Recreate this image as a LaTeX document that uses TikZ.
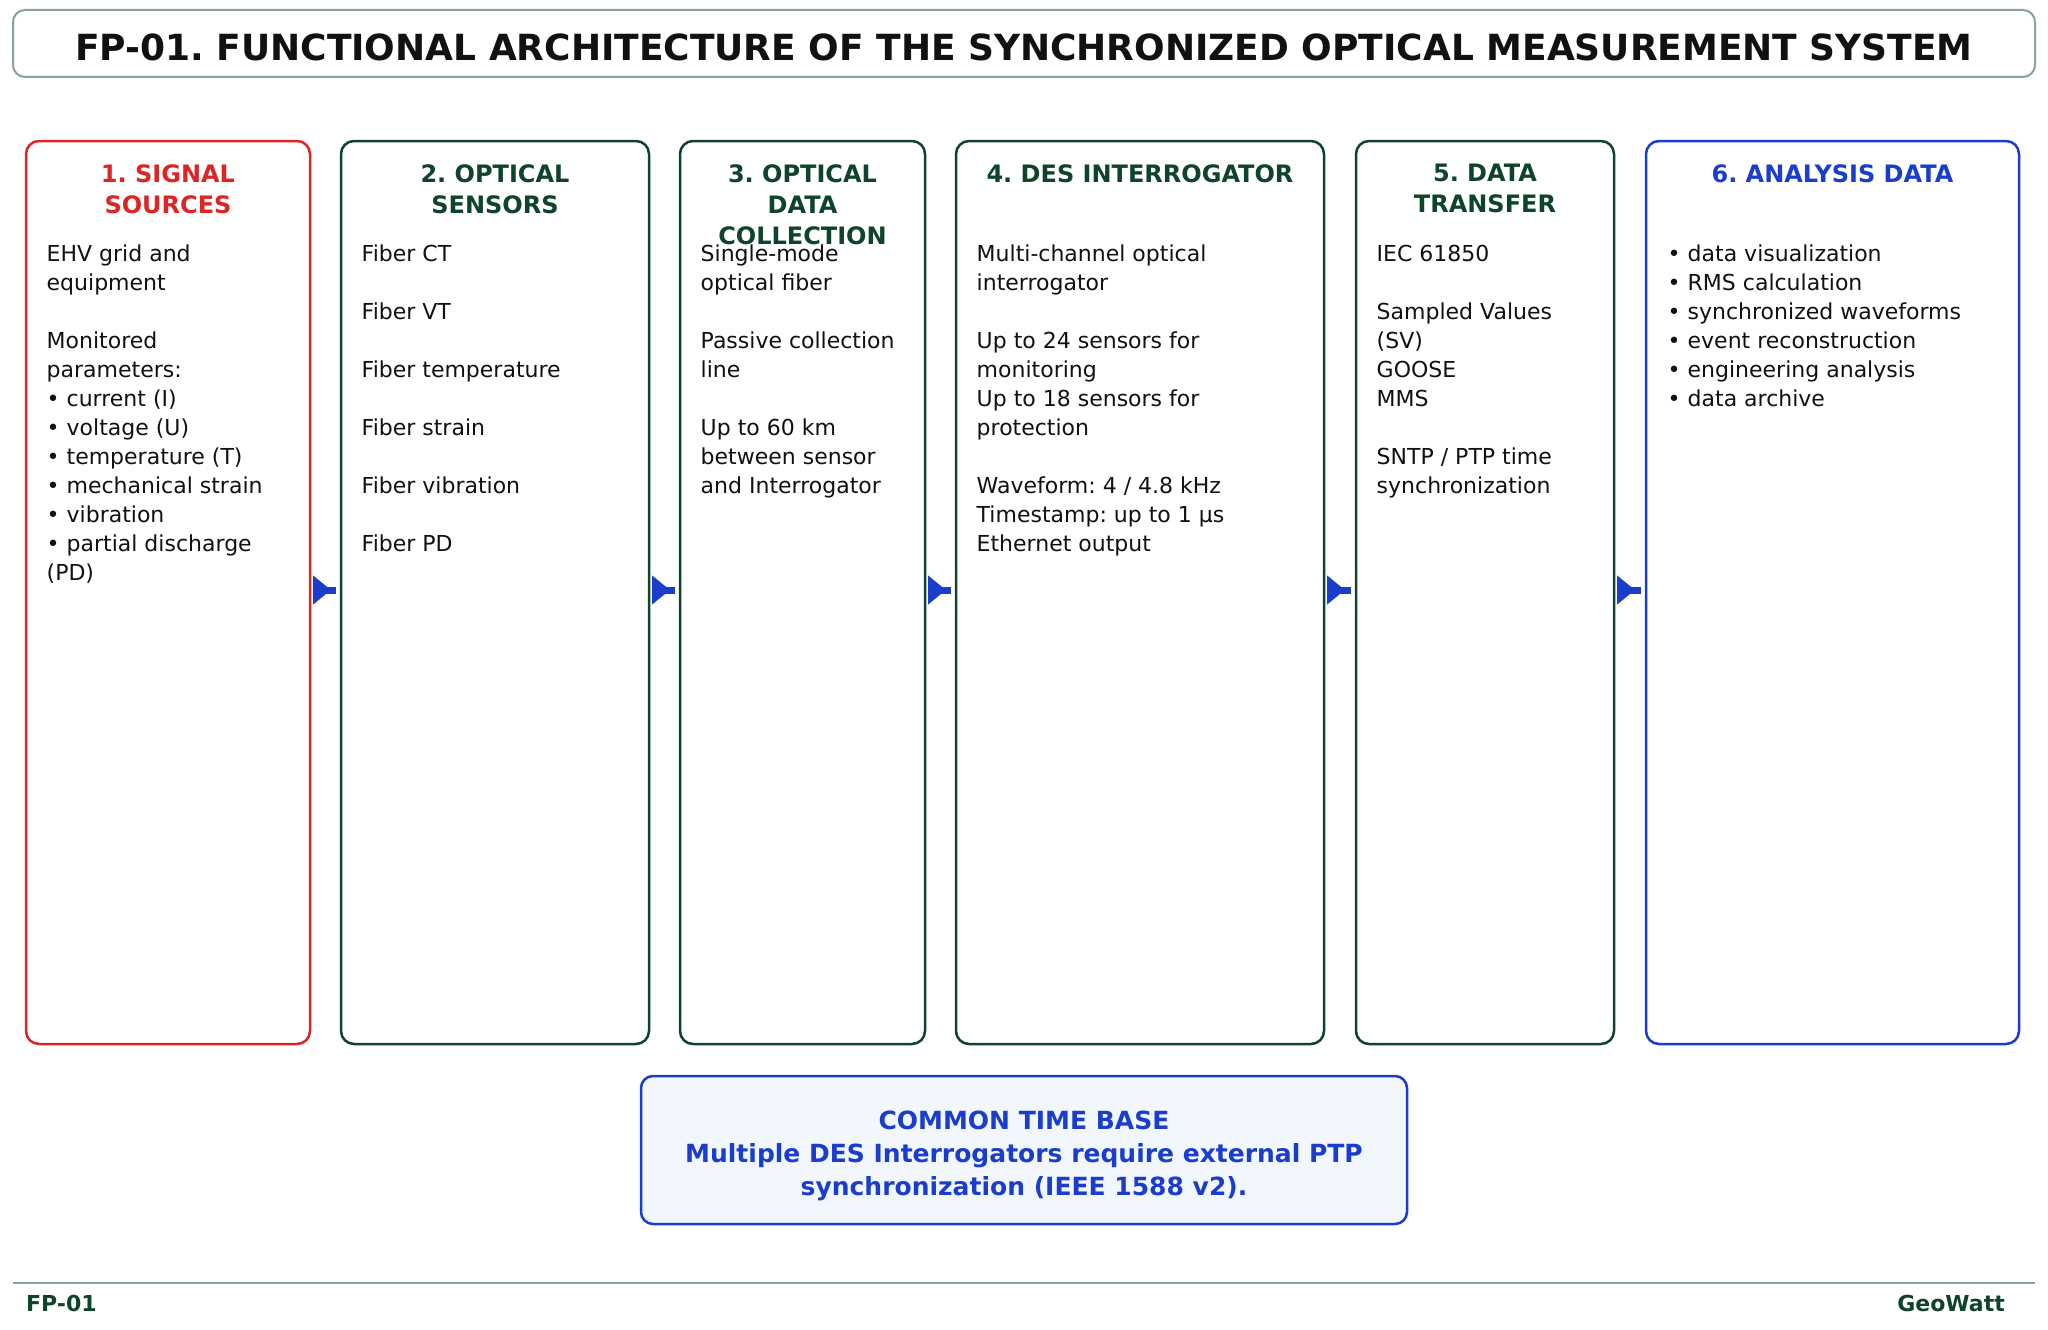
\documentclass[tikz,border=0pt]{standalone}
\usepackage{fontspec}
\setmainfont{DejaVu Sans}
\usetikzlibrary{arrows.meta}
\frenchspacing
\definecolor{cred}{HTML}{DC2626}
\definecolor{cgreen}{HTML}{0E4429}
\definecolor{cblue}{HTML}{1A3DCC}
\definecolor{cframe}{HTML}{8AA394}
\definecolor{ctext}{HTML}{111111}
\definecolor{cpale}{HTML}{F2F6FD}
\tikzset{
  stagebox/.style={draw=#1, line width=2.5pt, rounded corners=13pt, inner sep=0pt, outer sep=0pt, fill=white},
  stagetitle/.style={text=#1, anchor=north, align=center, inner sep=0pt, font=\fontsize{24}{31}\selectfont\bfseries},
  stagebody/.style={text=ctext, anchor=north west, align=left, inner sep=0pt, font=\fontsize{22}{29}\selectfont},
  flow/.style={draw=cblue, line width=7pt, shorten <=3pt, shorten >=5pt, {Triangle[reversed,length=18pt,width=28pt]}-},
  foot/.style={text=cgreen, inner sep=0pt, font=\fontsize{22}{25}\selectfont\bfseries}
}
\begin{document}
\begin{tikzpicture}[x=1pt,y=-1pt]
\useasboundingbox[fill=white] (0,0) rectangle (2048,1330);
% title
\node[draw=cframe, line width=2pt, rounded corners=12pt, minimum width=2022pt, minimum height=67pt, inner sep=0pt] (title) at (1024,43.5) {};
\node[anchor=base, inner sep=0pt, text=ctext, font=\fontsize{36}{40}\selectfont\bfseries] (titletext) at (1024,60) {FP-01. FUNCTIONAL ARCHITECTURE OF THE SYNCHRONIZED OPTICAL MEASUREMENT SYSTEM};
% boxes
\node[stagebox=cred, minimum width=284pt, minimum height=903pt] (b1) at (168,592.5) {};
\node[stagebox=cgreen, minimum width=308pt, minimum height=903pt] (b2) at (495,592.5) {};
\node[stagebox=cgreen, minimum width=245pt, minimum height=903pt] (b3) at (802.5,592.5) {};
\node[stagebox=cgreen, minimum width=368pt, minimum height=903pt] (b4) at (1140,592.5) {};
\node[stagebox=cgreen, minimum width=258pt, minimum height=903pt] (b5) at (1485,592.5) {};
\node[stagebox=cblue, minimum width=373pt, minimum height=903pt] (b6) at (1832.5,592.5) {};
% titles
\node[stagetitle=cred] (t1) at (168,164) {1. SIGNAL\\SOURCES};
\node[stagetitle=cgreen] (t2) at (495,164) {2. OPTICAL\\SENSORS};
\node[stagebody] (d3) at (700.5,244.5) {Single-mode\\optical fiber\\\mbox{}\\Passive collection\\line\\\mbox{}\\Up to 60 km\\between sensor\\and Interrogator};
\node[stagetitle=cgreen] (t3) at (802.5,164) {3. OPTICAL\\DATA\\COLLECTION};
\node[stagetitle=cgreen] (t4) at (1140,164) {4. DES INTERROGATOR};
\node[stagetitle=cgreen] (t5) at (1485,164) {5. DATA\\TRANSFER};
\node[stagetitle=cblue] (t6) at (1832.5,164) {6. ANALYSIS DATA};
% bodies
\node[stagebody] (d1) at (46.5,244.5) {EHV grid and\\equipment\\\mbox{}\\Monitored\\parameters:\\• current (I)\\• voltage (U)\\• temperature (T)\\• mechanical strain\\• vibration\\• partial discharge\\(PD)};
\node[stagebody] (d2) at (361.5,244.5) {Fiber CT\\\mbox{}\\Fiber VT\\\mbox{}\\Fiber temperature\\\mbox{}\\Fiber strain\\\mbox{}\\Fiber vibration\\\mbox{}\\Fiber PD};
\node[stagebody] (d4) at (976.5,244.5) {Multi-channel optical\\interrogator\\\mbox{}\\Up to 24 sensors for\\monitoring\\Up to 18 sensors for\\protection\\\mbox{}\\Waveform: 4 / 4.8 kHz\\Timestamp: up to 1 µs\\Ethernet output};
\node[stagebody] (d5) at (1376.5,244.5) {IEC 61850\\\mbox{}\\Sampled Values\\(SV)\\GOOSE\\MMS\\\mbox{}\\SNTP / PTP time\\synchronization};
\node[stagebody] (d6) at (1667.5,244.5) {• data visualization\\• RMS calculation\\• synchronized waveforms\\• event reconstruction\\• engineering analysis\\• data archive};
% arrows
\path[flow] (b1.east |- 0,590) -- (b2.west |- 0,590);
\path[flow] (b2.east |- 0,590) -- (b3.west |- 0,590);
\path[flow] (b3.east |- 0,590) -- (b4.west |- 0,590);
\path[flow] (b4.east |- 0,590) -- (b5.west |- 0,590);
\path[flow] (b5.east |- 0,590) -- (b6.west |- 0,590);
% time base
\node[draw=cblue, fill=cpale, line width=2.5pt, rounded corners=12pt, minimum width=766pt, minimum height=148pt, inner sep=0pt] (tb) at (1024,1150) {};
\node[anchor=north, align=center, inner sep=0pt, text=cblue, font=\fontsize{25}{33}\selectfont\bfseries] (tbtext) at (1024,1110.5) {COMMON TIME BASE\\Multiple DES Interrogators require external PTP\\synchronization (IEEE 1588 v2).};
% footer
\coordinate (fl) at (13,1283);
\coordinate (fr) at (2035,1283);
\draw[cframe, line width=2pt] (fl) -- (fr);
\node[foot, anchor=base west] (fp) at (26,1311) {FP-01};
\node[foot, anchor=base east] (gw) at (2005,1311) {GeoWatt};
\end{tikzpicture}
\end{document}
